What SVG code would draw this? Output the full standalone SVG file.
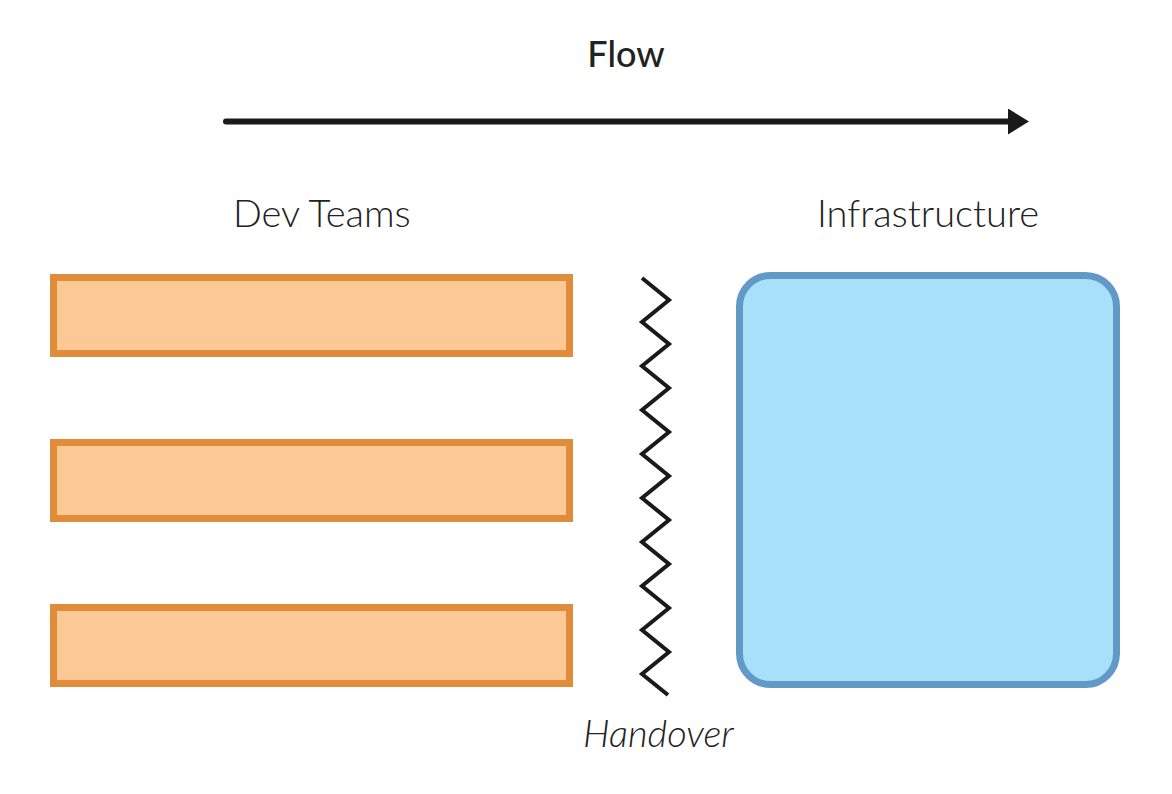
<svg xmlns="http://www.w3.org/2000/svg" width="1172" height="794" viewBox="0 0 1172 794">
  <style>
    .lbl { font-family: Lato, "Open Sans", "Liberation Sans", sans-serif; font-weight: 300; fill: #222; font-size: 38px; }
    .dev { fill: #fbc896; stroke: #e08c3a; stroke-width: 7; }
    .infra { fill: #a8e0f9; stroke: #6399c6; stroke-width: 7; }
  </style>
  <defs>
    <marker id="arrow" markerUnits="userSpaceOnUse" markerWidth="22" markerHeight="26" refX="0" refY="13" orient="auto">
      <path d="M0,0 L21,13 L0,26 Z" fill="#1a1a1a"/>
    </marker>
  </defs>
  <rect width="1172" height="794" fill="#ffffff"/>
  <g id="flow-label">
    <text x="626" y="67" text-anchor="middle" class="lbl" style="font-weight:500;font-size:36px" fill="#1a1a1a">Flow</text>
  </g>
  <g id="connectors">
    <line x1="226" y1="121.5" x2="1008" y2="121.5" stroke="#1a1a1a" stroke-width="6" stroke-linecap="round" marker-end="url(#arrow)"/>
    <polyline id="handover-line" fill="none" stroke="#1a1a1a" stroke-width="4" stroke-linejoin="miter"
      points="642,278 669,300 642,322 669,344 642,366 669,388 642,410 669,432 642,454 669,476 642,498 669,520 642,542 669,564 642,586 669,608 642,630 669,652 642,674 668,695"/>
  </g>
  <g id="dev-teams">
    <text x="233" y="227" class="lbl">Dev Teams</text>
    <rect id="team1" class="dev" x="53.5" y="277.5" width="516" height="76"/>
    <rect id="team2" class="dev" x="53.5" y="442.5" width="516" height="76"/>
    <rect id="team3" class="dev" x="53.5" y="607.5" width="516" height="76"/>
  </g>
  <g id="infrastructure">
    <text x="817" y="227" class="lbl">Infrastructure</text>
    <rect class="infra" x="739.5" y="275.5" width="377" height="409" rx="31" ry="31"/>
  </g>
  <g id="handover">
    <text x="583" y="747" class="lbl" style="font-style:italic">Handover</text>
  </g>
</svg>
